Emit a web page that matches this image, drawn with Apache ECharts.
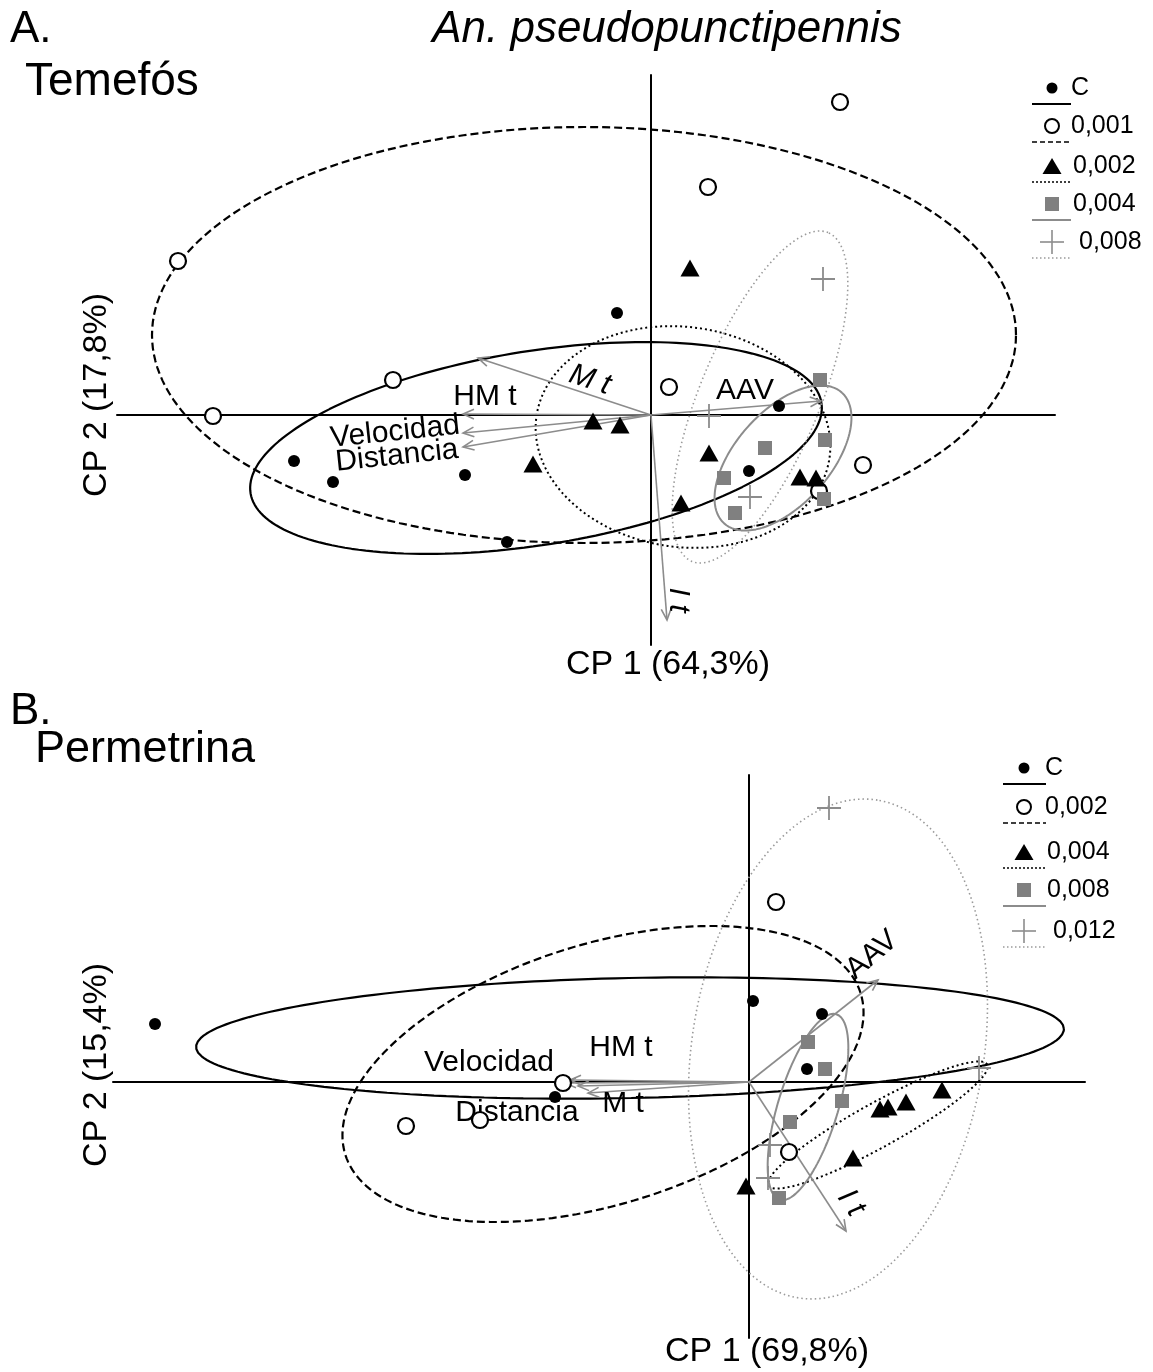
<!DOCTYPE html>
<html>
<head>
<meta charset="utf-8">
<script src="https://cdn.jsdelivr.net/npm/echarts@6/dist/echarts.min.js"></script>
<style>
html,body{margin:0;padding:0;background:#fff}
#chart{width:1153px;height:1372px}
</style>
</head>
<body>
<div id="chart"></div>
<script>
// PCA biplots of larval behaviour of An. pseudopunctipennis under two insecticides.

// ---------- Panel A: Temefós (CP1 64,3 %, CP2 17,8 %) ----------
const temGroups = ['C', '0,001', '0,002', '0,004', '0,008'];
const temC   = [[-0.34,1.02],[1.28,0.09],[-3.57,-0.46],[-3.18,-0.67],[-1.86,-0.60],[-1.44,-1.27],[0.98,-0.56]];
const tem001 = [[1.89,3.13],[0.57,2.28],[-4.73,1.54],[-2.58,0.35],[-4.38,-0.01],[0.18,0.28],[2.12,-0.50],[1.68,-0.76]];
const tem002 = [[0.39,1.47],[-0.58,-0.06],[-0.31,-0.10],[-1.18,-0.49],[0.58,-0.38],[1.49,-0.62],[1.65,-0.63],[0.30,-0.88]];
const tem004 = [[1.69,0.35],[1.74,-0.25],[1.14,-0.33],[0.73,-0.63],[0.84,-0.98],[1.73,-0.84]];
const tem008 = [[1.72,1.36],[0.58,-0.01],[0.99,-0.82]];
// group ellipses: [centre x, centre y, semi-major, semi-minor, angle (deg)]
const temEllipses = [[-1.15,-0.33,2.89,0.97,9],[-0.67,0.80,4.32,2.08,0],[0.32,-0.22,1.48,1.10,-8],[1.32,-0.43,0.88,0.47,48],[1.09,0.18,1.78,0.60,67.5]];
const temVarNames = ['M t', 'HM t', 'Velocidad', 'Distancia', 'AAV', 'I t'];
const temLoadings = [[-1.73,0.57],[-1.88,0.01],[-1.88,-0.18],[-1.88,-0.32],[1.70,0.14],[0.16,-2.05]];

// ---------- Panel B: Permetrina (CP1 69,8 %, CP2 15,4 %) ----------
const perGroups = ['C', '0,002', '0,004', '0,008', '0,012'];
const perC   = [[-5.94,0.58],[0.04,0.81],[0.73,0.68],[0.58,0.13],[-1.94,-0.15]];
const per002 = [[0.27,1.80],[-1.86,-0.01],[-3.43,-0.44],[-2.69,-0.38],[0.40,-0.70]];
const per004 = [[1.31,-0.27],[1.39,-0.25],[1.57,-0.20],[1.93,-0.08],[1.04,-0.76],[-0.03,-1.04]];
const per008 = [[0.59,0.40],[0.76,0.13],[0.93,-0.19],[0.41,-0.40],[0.30,-1.16]];
const per012 = [[0.80,2.74],[2.30,0.14],[0.21,-0.63],[0.19,-0.96]];
const perEllipses = [[-1.19,0.44,4.34,0.60,1.2],[-1.46,0.08,2.70,1.30,17.4],[1.29,-0.43,1.25,0.22,29],[0.59,-0.25,0.97,0.30,73],[0.89,0.33,2.52,1.46,81]];
const perVarNames = ['AAV', 'HM t', 'Velocidad', 'Distancia', 'M t', 'I t'];
const perLoadings = [[1.29,1.02],[-1.79,0.02],[-1.84,-0.01],[-1.71,-0.04],[-1.61,-0.11],[0.97,-1.49]];

// ---------- styling / layout ----------
const FONT = '"Liberation Sans", Arial, Helvetica, sans-serif';
const GREY = '#808080';
const GREY_LINE = '#8c8c8c';
const GREY_DOT = '#9a9a9a';
const PLUS = 'path://M0,11.1H24V12.9H0Z M11.1,0H12.9V24H11.1Z';

// marker and outline style for each concentration (same order in both panels)
const groupStyle = [
  { symbol: 'circle', size: 12, item: { color: '#000', opacity: 1 }, line: { color: '#000', width: 2.2, type: 'solid' } },
  { symbol: 'circle', size: 16, item: { color: '#fff', borderColor: '#000', borderWidth: 2.2, opacity: 1 }, line: { color: '#000', width: 2.2, type: [8, 4] } },
  { symbol: 'triangle', size: [19, 17], item: { color: '#000', opacity: 1 }, line: { color: '#000', width: 2, type: [2, 3] } },
  { symbol: 'rect', size: 14, item: { color: GREY, opacity: 1 }, line: { color: GREY_LINE, width: 2, type: 'solid' } },
  { symbol: PLUS, size: 24, item: { color: GREY_LINE, opacity: 1 }, line: { color: GREY_DOT, width: 1.6, type: [1.5, 3] } }
];

// label placement for the variable arrows: [x, y, rotation deg, italic]
const temLabelLayout = [[-0.61,0.35,-18,true],[-1.66,0.18,0,false],[-2.56,-0.17,6,false],[-2.54,-0.41,6,false],[0.94,0.24,0,false],[0.27,-1.85,-90,true]];
const perLabelLayout = [[1.23,1.27,40,false],[-1.28,0.34,0,false],[-2.60,0.19,0,false],[-2.32,-0.31,0,false],[-1.26,-0.22,0,false],[1.02,-1.21,-56,true]];

function ellipsePoints(e) {
  const [cx, cy, a, b, deg] = e;
  const t = deg * Math.PI / 180;
  const pts = [];
  for (let i = 0; i <= 200; i++) {
    const s = i / 200 * Math.PI * 2;
    const x = a * Math.cos(s), y = b * Math.sin(s);
    pts.push([cx + x * Math.cos(t) - y * Math.sin(t), cy + x * Math.sin(t) + y * Math.cos(t)]);
  }
  return pts;
}

function panelSeries(g, groups, pointSets, ellipses) {
  const out = [];
  ellipses.forEach((e, k) => {
    out.push({
      type: 'line', name: groups[k] + ' ellipse', xAxisIndex: g, yAxisIndex: g, z: 2,
      data: ellipsePoints(e), showSymbol: false, symbol: 'none', smooth: false, silent: true,
      lineStyle: groupStyle[k].line
    });
  });
  pointSets.forEach((pts, k) => {
    out.push({
      type: 'scatter', name: groups[k], xAxisIndex: g, yAxisIndex: g, z: 5,
      data: pts, symbol: groupStyle[k].symbol, symbolSize: groupStyle[k].size,
      itemStyle: groupStyle[k].item, silent: true
    });
  });
  return out;
}

function arrowSeries(g, loadings, names, layout) {
  return {
    type: 'custom', xAxisIndex: g, yAxisIndex: g, z: 4, silent: true,
    data: loadings,
    renderItem(params, api) {
      const i = params.dataIndex;
      const o = api.coord([0, 0]);
      const e = api.coord([api.value(0), api.value(1)]);
      const ang = Math.atan2(e[1] - o[1], e[0] - o[0]);
      const h = 12, w = 0.42;
      const p1 = [e[0] - h * Math.cos(ang - w), e[1] - h * Math.sin(ang - w)];
      const p2 = [e[0] - h * Math.cos(ang + w), e[1] - h * Math.sin(ang + w)];
      const L = layout[i];
      const lp = api.coord([L[0], L[1]]);
      return {
        type: 'group',
        children: [
          { type: 'line', shape: { x1: o[0], y1: o[1], x2: e[0], y2: e[1] }, style: { stroke: GREY_LINE, lineWidth: 1.6 } },
          { type: 'polyline', shape: { points: [p1, e, p2] }, style: { stroke: GREY_LINE, lineWidth: 1.6, fill: null } },
          { type: 'text', x: lp[0], y: lp[1], rotation: L[2] * Math.PI / 180,
            style: { text: names[i], font: (L[3] ? 'italic ' : '') + '30px ' + FONT, fill: '#000', align: 'center', verticalAlign: 'middle' } }
        ]
      };
    }
  };
}

function axisPair(g, xr, yr) {
  const common = {
    type: 'value', gridIndex: g,
    axisLine: { show: true, onZero: true, lineStyle: { color: '#000', width: 2 } },
    axisTick: { show: false }, axisLabel: { show: false }, splitLine: { show: false }
  };
  return [
    Object.assign({}, common, { min: xr[0], max: xr[1] }),
    Object.assign({}, common, { min: yr[0], max: yr[1] })
  ];
}

function txt(text, x, y, size, opts) {
  opts = opts || {};
  return {
    type: 'text', x: x, y: y, rotation: opts.rot || 0, z: 10,
    style: { text: text, font: (opts.italic ? 'italic ' : '') + size + 'px ' + FONT, fill: '#000',
             align: opts.align || 'left', verticalAlign: 'middle' }
  };
}

function legend(x0, rowsY, symX, textX, lineEnd, labels) {
  const els = [];
  const lineDash = [null, [5, 3], [2, 2], null, [1.5, 2.5]];
  const lineColor = ['#000', '#000', '#000', GREY_LINE, GREY_DOT];
  const lineW = [2, 1.6, 1.6, 2, 1.4];
  rowsY.forEach((y, k) => {
    if (k === 0) els.push({ type: 'circle', shape: { cx: symX, cy: y, r: 5.5 }, style: { fill: '#000' }, z: 10 });
    if (k === 1) els.push({ type: 'circle', shape: { cx: symX, cy: y, r: 7 }, style: { fill: '#fff', stroke: '#000', lineWidth: 2 }, z: 10 });
    if (k === 2) els.push({ type: 'polygon', shape: { points: [[symX, y - 8], [symX + 9.5, y + 8], [symX - 9.5, y + 8]] }, style: { fill: '#000' }, z: 10 });
    if (k === 3) els.push({ type: 'rect', shape: { x: symX - 7, y: y - 7, width: 14, height: 14 }, style: { fill: GREY }, z: 10 });
    if (k === 4) {
      els.push({ type: 'line', shape: { x1: symX - 12, y1: y, x2: symX + 12, y2: y }, style: { stroke: GREY_LINE, lineWidth: 1.6 }, z: 10 });
      els.push({ type: 'line', shape: { x1: symX, y1: y - 12, x2: symX, y2: y + 12 }, style: { stroke: GREY_LINE, lineWidth: 1.6 }, z: 10 });
    }
    els.push(txt(labels[k], textX[k], y, 25));
    els.push({ type: 'line', shape: { x1: x0, y1: y + 16, x2: lineEnd, y2: y + 16 },
      style: { stroke: lineColor[k], lineWidth: lineW[k], lineDash: lineDash[k] }, z: 10 });
  });
  return els;
}

const [axA_x, axA_y] = axisPair(0, [-5.34, 4.04], [-2.30, 3.40]);
const [axB_x, axB_y] = axisPair(1, [-6.36, 3.36], [-2.56, 3.07]);

const option = {
  animation: false,
  backgroundColor: '#fff',
  grid: [
    { left: 117, top: 75, width: 938, height: 570 },
    { left: 113, top: 775, width: 972, height: 563 }
  ],
  xAxis: [axA_x, axB_x],
  yAxis: [axA_y, axB_y],
  series: [].concat(
    panelSeries(0, temGroups, [temC, tem001, tem002, tem004, tem008], temEllipses),
    [arrowSeries(0, temLoadings, temVarNames, temLabelLayout)],
    panelSeries(1, perGroups, [perC, per002, per004, per008, per012], perEllipses),
    [arrowSeries(1, perLoadings, perVarNames, perLabelLayout)]
  ),
  graphic: { elements: [].concat(
    [
      txt('A.', 10, 30, 44),
      txt('An. pseudopunctipennis', 667, 30, 44, { italic: true, align: 'center' }),
      txt('Temefós', 25, 82, 46),
      txt('CP 1 (64,3%)', 668, 665, 34, { align: 'center' }),
      txt('CP 2 (17,8%)', 97, 395, 34, { align: 'center', rot: Math.PI / 2 }),
      txt('B.', 10, 712, 44),
      txt('Permetrina', 35, 750, 45),
      txt('CP 1 (69,8%)', 767, 1352, 34, { align: 'center' }),
      txt('CP 2 (15,4%)', 97, 1065, 34, { align: 'center', rot: Math.PI / 2 })
    ],
    legend(1032, [88, 126, 166, 204, 242], 1052, [1071, 1071, 1073, 1073, 1079], 1071, temGroups),
    legend(1003, [768, 807, 852, 890, 931], 1024, [1045, 1045, 1047, 1047, 1053], 1046, perGroups)
  ) }
};

const chart = echarts.init(document.getElementById('chart'), null, { renderer: 'canvas' });
chart.setOption(option);
</script>
</body>
</html>
